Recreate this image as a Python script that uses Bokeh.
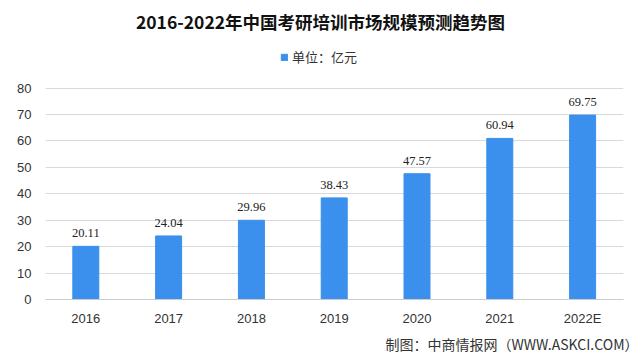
from bokeh.plotting import figure
from bokeh.models import ColumnDataSource, Label, Legend, LegendItem, FixedTicker, Title, Range1d
from bokeh.embed import file_html
from bokeh.resources import INLINE

years = ["2016", "2017", "2018", "2019", "2020", "2021", "2022E"]
values = [20.11, 24.04, 29.96, 38.43, 47.57, 60.94, 69.75]
value_labels = ["20.11", "24.04", "29.96", "38.43", "47.57", "60.94", "69.75"]
y_ticks = [0, 10, 20, 30, 40, 50, 60, 70, 80]

title_text = "2016-2022年中国考研培训市场规模预测趋势图"
legend_text = "单位：亿元"
source_text = "制图：中商情报网（WWW.ASKCI.COM）"

FONT = "Noto Sans CJK SC"
BAR = "#3A90EC"

xs = list(range(len(years)))
src = ColumnDataSource(dict(x=xs, top=values, lab=value_labels))

p = figure(width=640, height=363, output_backend="svg", toolbar_location=None,
           x_range=Range1d(-0.487, 6.494), y_range=Range1d(0, 113.1),
           min_border_left=45, min_border_right=17, min_border_top=0, min_border_bottom=64)
p.outline_line_color = None
p.background_fill_color = "white"
p.border_fill_color = "white"

r = p.vbar(x="x", top="top", width=0.314, source=src, color=BAR)
p.text(x="x", y="top", text="lab", source=src, text_align="center", text_baseline="bottom",
       y_offset=-9, text_font_size="12.5px", text_color="#222222", text_font="DejaVu Sans Mono")

p.xgrid.grid_line_color = None
p.ygrid.grid_line_color = "#d9d9d9"
p.ygrid.ticker = FixedTicker(ticks=y_ticks)

p.yaxis.ticker = FixedTicker(ticks=y_ticks)
p.yaxis.axis_line_color = None
p.yaxis.major_tick_line_color = None
p.yaxis.minor_tick_line_color = None
p.yaxis.major_label_standoff = 8
p.yaxis.major_label_text_font_size = "13px"
p.yaxis.major_label_text_color = "#333333"

p.xaxis.ticker = FixedTicker(ticks=xs)
p.xaxis.major_label_overrides = {i: y for i, y in zip(xs, years)}
p.xaxis.axis_line_color = "#cccccc"
p.xaxis.major_tick_line_color = None
p.xaxis.minor_tick_line_color = None
p.xaxis.major_label_standoff = 5
p.xaxis.major_label_text_font_size = "13px"
p.xaxis.major_label_text_color = "#333333"

p.add_layout(Label(x=275, y=278, x_units="screen", y_units="screen", text=title_text,
                   text_align="center", text_baseline="middle", text_font=FONT,
                   text_font_size="17.5px", text_font_style="bold", text_color="#111111"))

legend = Legend(items=[LegendItem(label=legend_text, renderers=[r])], location=(235, 233),
                glyph_width=8, glyph_height=8, label_text_font=FONT, label_text_font_size="13px",
                label_text_color="#333333", border_line_color=None, background_fill_alpha=0,
                padding=0, margin=0, label_standoff=4)
p.add_layout(legend, "center")

p.add_layout(Title(text=source_text, align="right", text_font=FONT, text_font_size="14px",
                   text_font_style="normal", text_color="#333333", offset=-15, standoff=7), "below")

open("out.html", "w").write(file_html(p, INLINE))
